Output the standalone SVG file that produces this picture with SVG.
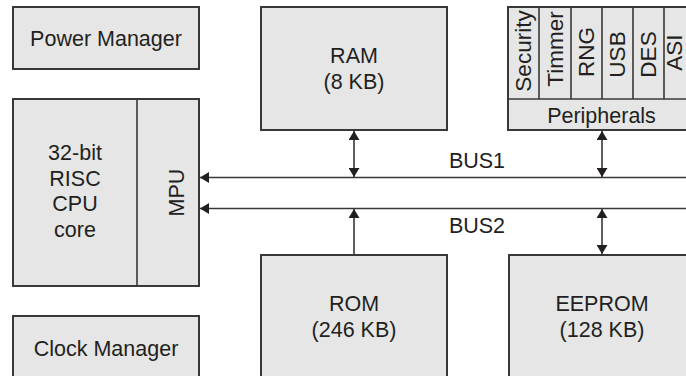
<svg xmlns="http://www.w3.org/2000/svg" width="686" height="376" viewBox="0 0 686 376">
<style>
.box{fill:#e6e6e6;stroke:#383838;stroke-width:2}
.sep{fill:none;stroke:#383838;stroke-width:1.6}
.t{font-family:"Liberation Sans",Arial,sans-serif;font-size:21.5px;fill:#231f20;text-anchor:middle}
.v{font-family:"Liberation Sans",Arial,sans-serif;font-size:22.5px;fill:#231f20;text-anchor:middle}
.bus{fill:none;stroke:#383838;stroke-width:1.6}
</style>
<defs>
<marker id="ah" viewBox="0 0 9 11" refX="9" refY="5.5" markerWidth="9" markerHeight="11" markerUnits="userSpaceOnUse" orient="auto-start-reverse" preserveAspectRatio="none">
<path d="M0,0 L9,5.5 L0,11 z" fill="#231f20"/>
</marker>
</defs>
<rect width="686" height="376" fill="#ffffff"/>
<g id="power-manager">
<rect class="box" x="13" y="7" width="186" height="62"/>
<text class="t" x="106" y="46">Power Manager</text>
</g>
<g id="cpu">
<rect class="box" x="13" y="99" width="186" height="187"/>
<line class="sep" x1="137" y1="99" x2="137" y2="286"/>
<text class="t" x="75" y="160">32-bit</text>
<text class="t" x="75" y="185.5">RISC</text>
<text class="t" x="75" y="211">CPU</text>
<text class="t" x="75" y="236.5">core</text>
<text class="t" transform="translate(184,192.5) rotate(-90)">MPU</text>
</g>
<g id="clock-manager">
<rect class="box" x="13" y="316" width="186" height="70"/>
<text class="t" x="106" y="356">Clock Manager</text>
</g>
<g id="ram">
<rect class="box" x="261" y="7" width="186" height="123"/>
<text class="t" x="354" y="63">RAM</text>
<text class="t" x="354" y="89">(8 KB)</text>
</g>
<g id="peripherals">
<rect class="box" x="508" y="7" width="187" height="123"/>
<line class="sep" x1="508" y1="99" x2="695" y2="99"/>
<line class="sep" x1="539" y1="7" x2="539" y2="99"/>
<line class="sep" x1="571" y1="7" x2="571" y2="99"/>
<line class="sep" x1="602" y1="7" x2="602" y2="99"/>
<line class="sep" x1="633" y1="7" x2="633" y2="99"/>
<line class="sep" x1="664" y1="7" x2="664" y2="99"/>
<text class="v" transform="translate(531,51) rotate(-90)">Security</text>
<text class="v" transform="translate(563,49) rotate(-90)">Timmer</text>
<text class="v" transform="translate(594,52) rotate(-90)">RNG</text>
<text class="v" transform="translate(625,54.5) rotate(-90)">USB</text>
<text class="v" transform="translate(656,54.5) rotate(-90)">DES</text>
<text class="v" transform="translate(682,52.5) rotate(-90)">ASI</text>
<text class="t" x="601.5" y="122.5">Peripherals</text>
</g>
<g id="rom">
<rect class="box" x="261" y="255" width="186" height="130"/>
<text class="t" x="354" y="311">ROM</text>
<text class="t" x="354" y="337">(246 KB)</text>
</g>
<g id="eeprom">
<rect class="box" x="509" y="255" width="186" height="130"/>
<text class="t" x="602" y="311">EEPROM</text>
<text class="t" x="602" y="337">(128 KB)</text>
</g>
<g id="connectors">
<path class="bus" d="M686,177.5 H200" marker-end="url(#ah)"/>
<path class="bus" d="M686,208.5 H200" marker-end="url(#ah)"/>
<path class="bus" d="M354,131 V177" marker-start="url(#ah)" marker-end="url(#ah)"/>
<path class="bus" d="M602,131 V177" marker-start="url(#ah)" marker-end="url(#ah)"/>
<path class="bus" d="M354,254 V209" marker-end="url(#ah)"/>
<path class="bus" d="M602,209 V254" marker-start="url(#ah)" marker-end="url(#ah)"/>
<text class="t" x="477" y="168">BUS1</text>
<text class="t" x="477" y="233">BUS2</text>
</g>
</svg>
